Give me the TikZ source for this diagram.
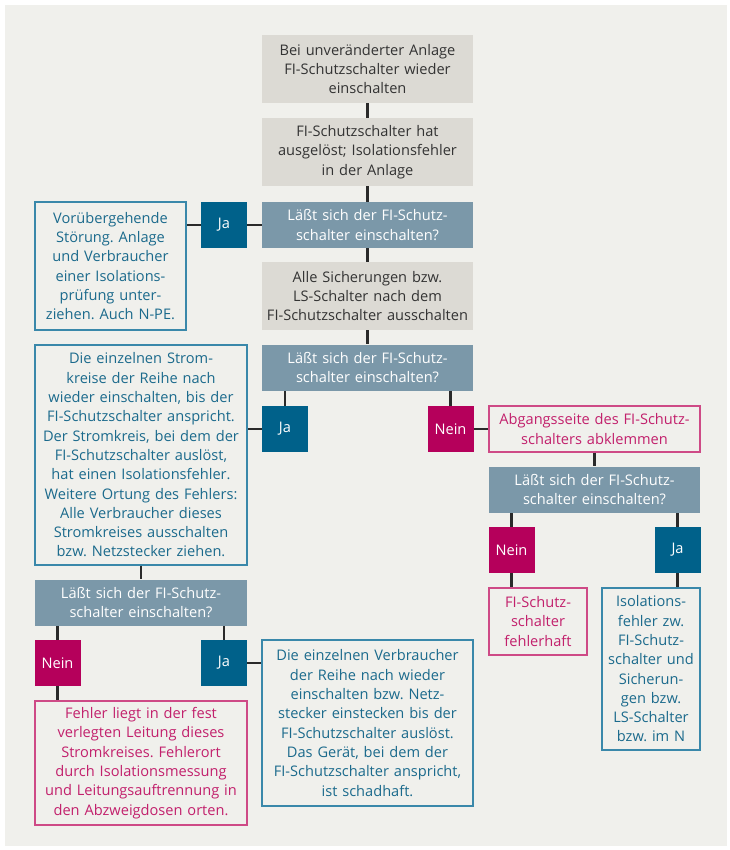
\documentclass[tikz,border=0pt]{standalone}
\usepackage{fontspec}
\setmainfont{Open Sans}
\frenchspacing
\definecolor{panel}{HTML}{F0F0EC}
\definecolor{actgray}{HTML}{DCDAD4}
\definecolor{askgray}{HTML}{7B98A9}
\definecolor{jablue}{HTML}{00618A}
\definecolor{neinred}{HTML}{B5005B}
\definecolor{infoblue}{HTML}{1B6A8C}
\definecolor{infoline}{HTML}{3A88AA}
\definecolor{faulttext}{HTML}{C2206C}
\definecolor{faultline}{HTML}{CE4A86}
\definecolor{wire}{HTML}{2A2A2A}
\begin{document}
\begin{tikzpicture}[
    x=1pt, y=-1pt,
    every node/.style={font=\fontsize{14.6}{19.3}\selectfont, align=center, inner sep=0pt},
    action/.style={rectangle, fill=actgray, text=black!80, minimum width=211pt, text width=209pt},
    ask/.style={rectangle, fill=askgray, text=white, minimum width=211pt, text width=209pt, minimum height=46pt},
    yes/.style={rectangle, fill=jablue, text=white, minimum size=46pt},
    no/.style={rectangle, fill=neinred, text=white, minimum size=46pt},
    info/.style={rectangle, draw=infoline, line width=1.2pt, fill=panel, text=infoblue},
    fault/.style={rectangle, draw=faultline, line width=1.2pt, fill=panel, text=faulttext},
    link/.style={draw=wire, line width=2.2pt}
]

% Panel
\useasboundingbox (0,0) rectangle (729,850);
\fill[panel] (5,5) rectangle (727,846);

% Main column
\node[action, minimum height=68pt] (start) at (367.5,69) {Bei unveränderter Anlage\\FI-Schutzschalter wieder\\einschalten};
\node[action, minimum height=68pt] (tripped) at (367.5,152) {FI-Schutzschalter hat\\ausgelöst; Isolationsfehler\\in der Anlage};
\node[ask] (ask1) at (367.5,225) {Läßt sich der FI-Schutz-\\schalter einschalten?};
\node[action, minimum height=68pt] (alloff) at (367.5,296) {Alle Sicherungen bzw.\\LS-Schalter nach dem\\FI-Schutzschalter ausschalten};
\node[ask] (ask2) at (367.5,367.5) {Läßt sich der FI-Schutz-\\schalter einschalten?};

% First answer
\node[yes] (ja1) at (224,225) {Ja};
\node[info, minimum width=151pt, text width=149pt, minimum height=128pt] (info1) at (110.5,266) {Vorübergehende\\Störung. Anlage\\und Verbraucher\\einer Isolations-\\prüfung unter-\\ziehen. Auch N-PE.};

% Second answers
\node[yes] (ja2) at (285,429) {Ja};
\node[no] (nein2) at (450.5,429) {Nein};
\node[info, minimum width=212pt, text width=210pt, minimum height=220pt] (circuits) at (141,455) {Die einzelnen Strom-\\kreise der Reihe nach\\wieder einschalten, bis der\\FI-Schutzschalter anspricht.\\Der Stromkreis, bei dem der\\FI-Schutzschalter auslöst,\\hat einen Isolationsfehler.\\Weitere Ortung des Fehlers:\\Alle Verbraucher dieses\\Stromkreises ausschalten\\bzw. Netzstecker ziehen.};
\node[fault, minimum width=211pt, text width=209pt, minimum height=46pt] (clamp) at (594.5,429) {Abgangsseite des FI-Schutz-\\schalters abklemmen};

% Right branch
\node[ask] (ask3) at (594.5,489.5) {Läßt sich der FI-Schutz-\\schalter einschalten?};
\node[no] (nein3) at (511.5,550) {Nein};
\node[yes] (ja3) at (677.5,550) {Ja};
\node[fault, minimum width=98pt, text width=96pt, minimum height=67pt] (rcdbad) at (538,621.5) {FI-Schutz-\\schalter\\fehlerhaft};
\node[info, minimum width=98pt, text width=96pt, minimum height=162pt] (insul) at (651,669) {Isolations-\\fehler zw.\\FI-Schutz-\\schalter und\\Sicherun-\\gen bzw.\\LS-Schalter\\bzw. im N};

% Left branch
\node[ask, minimum width=212pt, text width=210pt] (ask4) at (141,602.5) {Läßt sich der FI-Schutz-\\schalter einschalten?};
\node[no] (nein4) at (57.5,663) {Nein};
\node[yes] (ja4) at (224,663) {Ja};
\node[fault, minimum width=212pt, text width=210pt, minimum height=124pt] (wiring) at (141,763) {Fehler liegt in der fest\\verlegten Leitung dieses\\Stromkreises. Fehlerort\\durch Isolationsmessung\\und Leitungsauftrennung in\\den Abzweigdosen orten.};
\node[info, minimum width=211pt, text width=209pt, minimum height=166pt] (devices) at (367.5,723) {Die einzelnen Verbraucher\\der Reihe nach wieder\\einschalten bzw. Netz-\\stecker einstecken bis der\\FI-Schutzschalter auslöst.\\Das Gerät, bei dem der\\FI-Schutzschalter anspricht,\\ist schadhaft.};

% Connectors
\draw[link] (start) -- (tripped);
\draw[link] (tripped) -- (ask1);
\draw[link] (ask1) -- (alloff);
\draw[link] (alloff) -- (ask2);
\draw[link] (ask1) -- (ja1);
\draw[link] (ja1.west) -- (ja1.west -| info1.east);
\draw[link] (ja2.north) -- (ja2.north |- ask2.south);
\draw[link] (nein2.north) -- (nein2.north |- ask2.south);
\draw[link] (ja2.west) -- (ja2.west -| circuits.east);
\draw[link] (nein2) -- (clamp);
\draw[link] (clamp) -- (ask3);
\draw[link] (nein3.north) -- (nein3.north |- ask3.south);
\draw[link] (ja3.north) -- (ja3.north |- ask3.south);
\draw[link] (nein3.south) -- (nein3.south |- rcdbad.north);
\draw[link] (ja3.south) -- (ja3.south |- insul.north);
\draw[link] (circuits) -- (ask4);
\draw[link] (nein4.north) -- (nein4.north |- ask4.south);
\draw[link] (ja4.north) -- (ja4.north |- ask4.south);
\draw[link] (nein4.south) -- (nein4.south |- wiring.north);
\draw[link] (ja4.east) -- (ja4.east -| devices.west);

\end{tikzpicture}
\end{document}
